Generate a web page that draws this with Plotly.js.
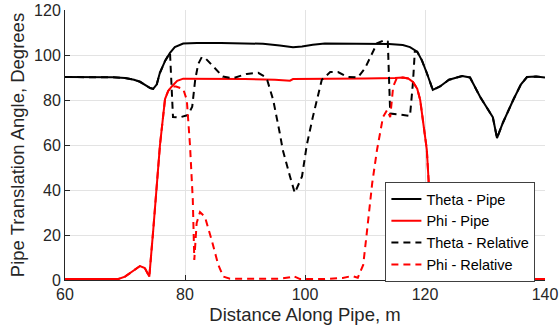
<!DOCTYPE html>
<html>
<head>
<meta charset="utf-8">
<script src="https://cdn.plot.ly/plotly-3.0.1.min.js"></script>
<style>html,body{margin:0;padding:0;background:#fff;}#chart{width:559px;height:335px;}</style>
</head>
<body>
<div id="chart"></div>
<script>
// Theta - Pipe
const thetaPipeX = [60, 65, 68, 70, 71.5, 72.5, 73.5, 74.2, 74.7, 75.3, 75.8, 76.7, 77.5, 78.3, 79.7, 82, 86, 90, 93, 95.8, 97, 98, 99.5, 101.3, 103.3, 110, 114, 116.3, 117.5, 118.7, 119.5, 120.3, 121.3, 122.5, 124, 126.2, 127.5, 129.2, 130.5, 131.3, 132, 133, 134.7, 136, 137, 138.5, 140];
const thetaPipeY = [90.2, 90.2, 90.1, 89.8, 89.0, 88.1, 86.5, 85.3, 84.9, 87, 92, 97.5, 101, 103.5, 105.1, 105.3, 105.3, 105.2, 105.0, 104.2, 103.6, 103.4, 103.8, 104.6, 105.1, 105.0, 104.9, 104.4, 103.5, 101.5, 97.5, 92, 84.5, 86, 89, 90.7, 90, 81.3, 76, 72.4, 63.1, 70, 80, 87, 90.2, 90.4, 90];

// Phi - Pipe
const phiPipeX = [60, 65, 68.9, 70, 71.5, 72.5, 73.3, 74.05, 74.7, 75.3, 75.83, 76.67, 77.2, 77.8, 78.7, 79.7, 85, 90, 95, 97.5, 98, 100, 105, 110, 115, 116.3, 117.2, 118, 118.7, 119.2, 119.8, 120.3, 120.8, 121.3, 121.7, 122.1, 122.7, 123.3, 124.5, 125.8, 127.5, 130, 135, 140];
const phiPipeY = [0.4, 0.4, 0.5, 1.5, 4.5, 6.2, 5.3, 1.5, 22, 43, 60, 80.4, 84, 86, 88.5, 89.5, 89.5, 89.3, 89.0, 88.6, 89.3, 89.4, 89.5, 89.6, 89.8, 90, 89.6, 88, 85, 80, 68, 58, 35, 13.3, 2.2, 1.8, 5, 6.7, 4.5, 2.2, 0.9, 0.6, 0.5, 0.5];

// Theta - Relative
const thetaRelX = [60, 65, 68, 70, 71.5, 72.5, 73.5, 74.2, 74.7, 75.3, 75.8, 76.7, 77.5, 77.8, 78, 79, 80.5, 81.2, 81.7, 82.2, 82.8, 83.5, 84.5, 85.5, 86.3, 88, 90.3, 92.2, 93.2, 93.7, 94.7, 95.8, 96.3, 97.5, 98.3, 99.5, 100.3, 101.3, 102.8, 104.2, 105.5, 107, 108.8, 110, 112, 113.3, 113.8, 114.0, 114.2, 116, 117.5, 118, 118.3, 118.7, 119.5, 120.3, 121.3, 122.5, 124, 126.2, 127.5, 129.2, 130.5, 131.3, 132, 133, 134.7, 136, 137, 138.5, 140];
const thetaRelY = [90.2, 90.2, 90.1, 89.8, 89.0, 88.1, 86.5, 85.3, 84.9, 87, 92, 97.5, 101, 85, 72.4, 72.2, 73.3, 77, 89, 96, 99.1, 98.3, 95.6, 92.5, 90.4, 89.7, 91.6, 92.1, 90.5, 88.9, 80, 65.2, 57.8, 46, 38.7, 46, 60, 72.4, 89, 92.4, 92.4, 90.3, 90, 94.1, 105.2, 106.7, 106, 90, 74, 73.5, 72.9, 88, 101.5, 101.5, 97.5, 92, 84.5, 86, 89, 90.7, 90, 81.3, 76, 72.4, 63.1, 70, 80, 87, 90.2, 90.4, 90];

// Phi - Relative
const phiRelX = [60, 65, 68.9, 70, 71.5, 72.5, 73.3, 74.05, 74.7, 75.3, 75.83, 76.67, 77.2, 77.8, 78.5, 79.7, 80.3, 80.83, 81.3, 81.55, 81.94, 82.5, 83.33, 84.44, 85.55, 86.39, 87.5, 92, 96, 97.5, 98, 99.2, 103, 106.3, 107.8, 108.8, 109.7, 110.3, 111.2, 112, 112.2, 113, 113.7, 114.2, 114.7, 115.3, 116.3, 117.2, 118, 118.7, 119.2, 119.8, 120.3, 120.8, 121.3, 121.7, 122.1, 122.7, 123.3, 124.5, 125.8, 127.5, 130, 135, 140];
const phiRelY = [0.4, 0.4, 0.5, 1.5, 4.5, 6.2, 5.3, 1.5, 22, 43, 60, 80.4, 84, 86, 86, 84.9, 80, 60, 35.6, 8.9, 25.3, 30.2, 28, 17.8, 6.7, 1.5, 0.6, 0.5, 0.6, 1.2, 1.8, 0.4, 0.4, 0.9, 1.8, 1.0, 6.7, 20.9, 43, 57.8, 60.9, 72.4, 75.6, 72.4, 86, 89.7, 90, 89.6, 88, 85, 80, 68, 58, 35, 13.3, 2.2, 1.8, 5, 6.7, 4.5, 2.2, 0.9, 0.6, 0.5, 0.5];

const seriesNames = ['Theta - Pipe', 'Phi - Pipe', 'Theta - Relative', 'Phi - Relative'];
const xTicks = [60, 80, 100, 120, 140];
const yTicks = [0, 20, 40, 60, 80, 100, 120];

const dashPattern = '7px,5px';
const traces = [
  {x: thetaPipeX, y: thetaPipeY, name: seriesNames[0], mode: 'lines', line: {color: '#000000', width: 2}},
  {x: phiPipeX, y: phiPipeY, name: seriesNames[1], mode: 'lines', line: {color: '#ff0000', width: 2}},
  {x: thetaRelX, y: thetaRelY, name: seriesNames[2], mode: 'lines', line: {color: '#000000', width: 2, dash: dashPattern}},
  {x: phiRelX, y: phiRelY, name: seriesNames[3], mode: 'lines', line: {color: '#ff0000', width: 2, dash: dashPattern}}
];

const axisCommon = {
  ticks: 'inside', ticklen: 5, tickwidth: 1, tickcolor: '#262626',
  showline: true, linecolor: '#262626', linewidth: 1,
  showgrid: true, gridcolor: '#e3e3e3', gridwidth: 1,
  zeroline: false, automargin: false,
  tickfont: {family: 'Arial, Liberation Sans, sans-serif', size: 16, color: '#262626'}
};

const layout = {
  width: 559, height: 335,
  margin: {l: 65, r: 14, t: 10, b: 55},
  paper_bgcolor: '#ffffff', plot_bgcolor: '#ffffff',
  font: {family: 'Arial, Liberation Sans, sans-serif', color: '#262626'},
  showlegend: true,
  xaxis: Object.assign({}, axisCommon, {
    range: [60, 140], tickvals: xTicks, ticktext: xTicks.map(String),
    title: {text: 'Distance Along Pipe, m', font: {size: 18.5, color: '#262626'}, standoff: 5}
  }),
  yaxis: Object.assign({}, axisCommon, {
    range: [0, 120], tickvals: yTicks, ticktext: yTicks.map(String),
    title: {text: 'Pipe Translation Angle, Degrees', font: {size: 18.5, color: '#262626'}, standoff: 4}
  }),
  legend: {
    x: 0.98, xanchor: 'right', y: 0.363, yanchor: 'top',
    bgcolor: '#ffffff', bordercolor: '#404040', borderwidth: 1,
    font: {size: 14.5, color: '#000000'}, tracegroupgap: 0, itemwidth: 30
  }
};

Plotly.newPlot('chart', traces, layout, {staticPlot: true, displayModeBar: false});
</script>
</body>
</html>
